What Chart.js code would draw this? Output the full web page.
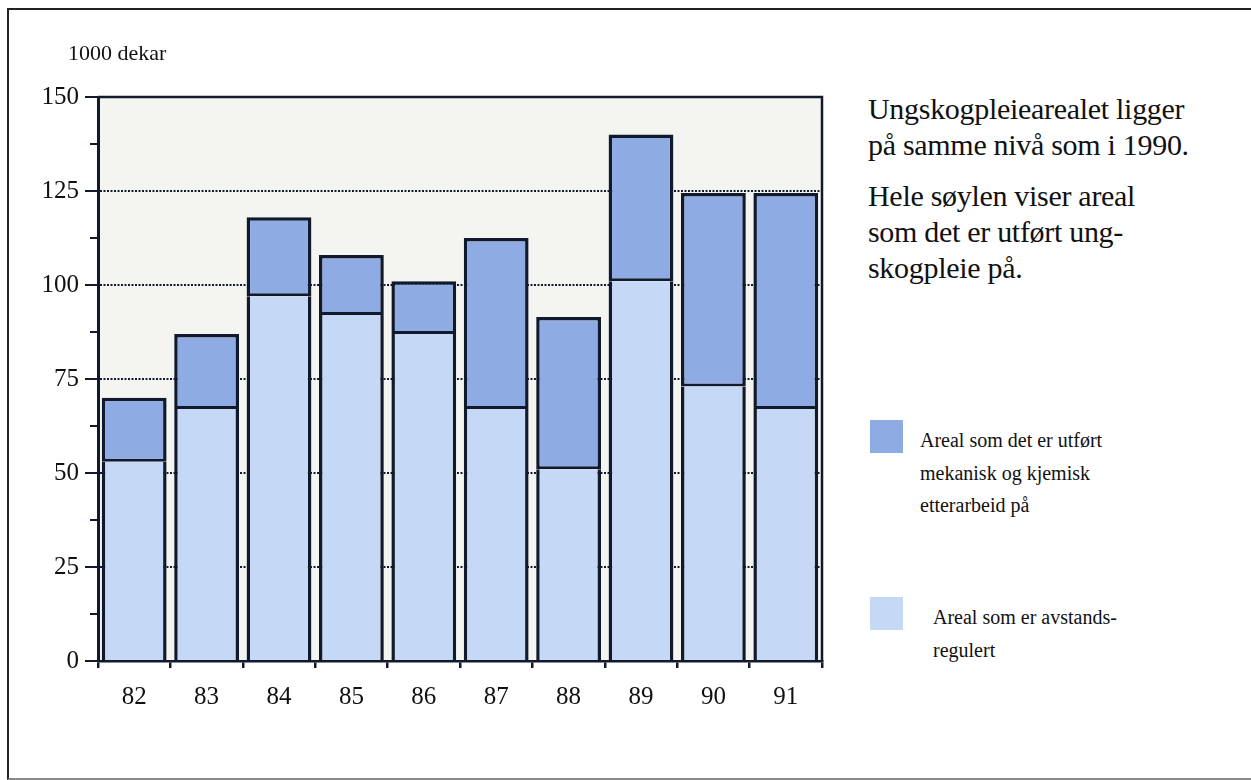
<!DOCTYPE html>
<html>
<head>
<meta charset="utf-8">
<script src="https://cdn.jsdelivr.net/npm/chart.js@4/dist/chart.umd.min.js"></script>
<style>
  body { margin: 0; background: #fff; font-family: "Liberation Serif", "DejaVu Serif", serif; color: #111; }
  #frame { position: absolute; left: 7px; top: 8px; width: 1300px; height: 768px;
           border-left: 2px solid #222; border-top: 2px solid #222; border-bottom: 2px solid #888; }
  #plot { position: absolute; left: 0; top: 0; }
  .unit { position: absolute; left: 68px; top: 40px; font-size: 22px; font-family: "Liberation Serif", serif; }
  .note { position: absolute; left: 868px; font-size: 30px; line-height: 36px; letter-spacing: -0.3px;
          font-family: "Liberation Serif", serif; }
  .swatch { position: absolute; left: 870px; width: 33px; height: 33px; }
  .leg { position: absolute; font-size: 20px; line-height: 32.5px; font-family: "Liberation Serif", serif; }
</style>
</head>
<body>
<div id="frame"></div>
<canvas id="plot" width="860" height="740"></canvas>
<div class="unit">1000 dekar</div>
<div class="note" style="top:91px">Ungskogpleiearealet ligger<br>på samme nivå som i 1990.</div>
<div class="note" style="top:178px">Hele søylen viser areal<br>som det er utført ung-<br>skogpleie på.</div>
<div class="swatch" style="top:420px; background:#8eabe4"></div>
<div class="leg" style="left:920px; top:424px">Areal som det er utført<br>mekanisk og kjemisk<br>etterarbeid på</div>
<div class="swatch" style="top:597px; background:#c5d8f5"></div>
<div class="leg" style="left:933px; top:601px">Areal som er avstands-<br>regulert</div>
<script>
// years on the x axis
var years = ["82", "83", "84", "85", "86", "87", "88", "89", "90", "91"];
// lower part of each bar: avstandsregulert (1000 dekar)
var avstandsregulert = [53, 67, 97, 92, 87, 67, 51, 101, 73, 67];
// upper part: mekanisk og kjemisk etterarbeid (rest of the column)
var etterarbeid = [17, 20, 21, 16, 14, 45.5, 40.5, 39, 51.5, 57.5];
var yTicks = [0, 25, 50, 75, 100, 125, 150];

var ink = "#101a2c";
var serif = "'Liberation Serif', 'DejaVu Serif', serif";

// plot background, frame on top/right and minor ticks on the y axis
var plotFrame = {
  id: "plotFrame",
  beforeDraw: function (chart) {
    var a = chart.chartArea, ctx = chart.ctx;
    ctx.save();
    ctx.fillStyle = "#f4f4f0";
    ctx.fillRect(a.left, a.top, a.right - a.left, a.bottom - a.top);
    ctx.restore();
  },
  afterDraw: function (chart) {
    var a = chart.chartArea, ctx = chart.ctx, y = chart.scales.y;
    ctx.save();
    ctx.strokeStyle = ink;
    ctx.lineWidth = 2.5;
    ctx.beginPath();
    ctx.moveTo(a.left, a.top);
    ctx.lineTo(a.right, a.top);
    ctx.lineTo(a.right, a.bottom);
    ctx.stroke();
    ctx.lineWidth = 2;
    for (var v = 12.5; v < 150; v += 25) {
      var py = y.getPixelForValue(v);
      ctx.beginPath();
      ctx.moveTo(a.left - 8, py);
      ctx.lineTo(a.left, py);
      ctx.stroke();
    }
    ctx.restore();
  }
};

new Chart(document.getElementById("plot"), {
  type: "bar",
  data: {
    labels: years,
    datasets: [{
      label: "Areal som er avstandsregulert",
      data: avstandsregulert,
      backgroundColor: "#c5d8f5",
      borderColor: ink,
      borderWidth: { top: 0, left: 3.5, right: 3.5, bottom: 0 },
      borderSkipped: false,
      inflateAmount: 0
    }, {
      label: "Areal som det er utført mekanisk og kjemisk etterarbeid på",
      data: etterarbeid,
      backgroundColor: "#8eabe4",
      borderColor: ink,
      borderWidth: { top: 3.5, left: 3.5, right: 3.5, bottom: 3 },
      borderSkipped: false,
      inflateAmount: 0
    }]
  },
  options: {
    responsive: false,
    animation: false,
    layout: { padding: { left: 0, top: 97, right: 38, bottom: 0 } },
    plugins: { legend: { display: false }, tooltip: { enabled: false } },
    datasets: { bar: { categoryPercentage: 0.895, barPercentage: 1 } },
    scales: {
      x: {
        stacked: true,
        afterFit: function (s) { s.height = 79; },
        grid: { drawOnChartArea: false, offset: true, color: ink, lineWidth: 2.5, tickLength: 7 },
        border: { color: ink, width: 2.5 },
        ticks: { color: "#111", padding: 14, font: { family: serif, size: 25 } }
      },
      y: {
        stacked: true,
        min: 0,
        max: 150,
        afterFit: function (s) { s.width = 98; },
        afterBuildTicks: function (s) { s.ticks = yTicks.map(function (v) { return { value: v }; }); },
        grid: {
          color: ink, lineWidth: 2,
          tickLength: 13, tickColor: ink, tickWidth: 2, tickBorderDash: []
        },
        border: { color: ink, width: 3, dash: [2, 1.5] },
        ticks: { color: "#111", padding: 6, font: { family: serif, size: 25 } }
      }
    }
  },
  plugins: [plotFrame]
});
</script>
</body>
</html>
